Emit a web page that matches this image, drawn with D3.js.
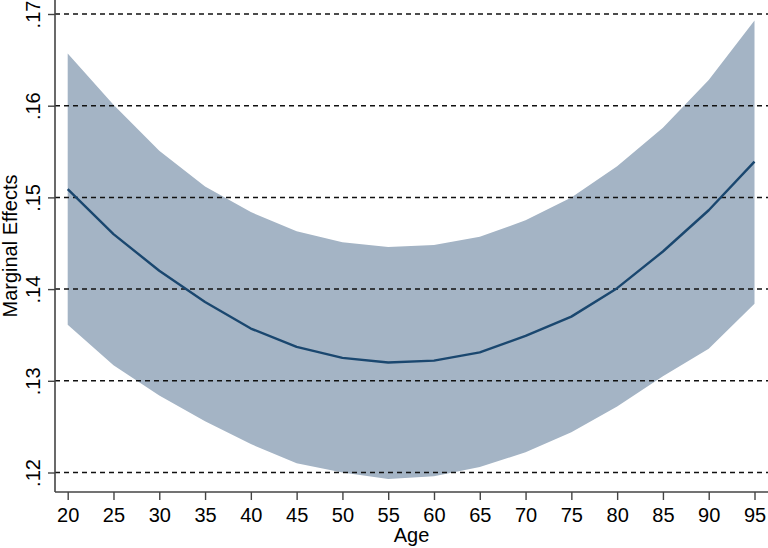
<!DOCTYPE html>
<html>
<head>
<meta charset="utf-8">
<script src="https://cdn.jsdelivr.net/npm/d3@7/dist/d3.min.js"></script>
<style>
  html, body { margin: 0; padding: 0; background: #fff; }
  svg { display: block; font-family: "Liberation Sans", Arial, sans-serif; }
</style>
</head>
<body>
<svg id="chart" width="768" height="548"></svg>
<script>
const ages = [20, 25, 30, 35, 40, 45, 50, 55, 60, 65, 70, 75, 80, 85, 90, 95];
const effect = [.1509, .1460, .1420, .1386, .1357, .1337, .1325, .1320, .1322, .1331, .1349, .1370, .1401, .1441, .1486, .1539];
const upper  = [.1657, .1601, .1551, .1512, .1484, .1463, .1451, .1446, .1448, .1457, .1475, .1500, .1534, .1576, .1628, .1693];
const lower  = [.1361, .1317, .1284, .1256, .1231, .1210, .1200, .1193, .1196, .1206, .1222, .1244, .1272, .1305, .1335, .1384];
const yTicks = [.12, .13, .14, .15, .16, .17];
const yTickLabels = [".12", ".13", ".14", ".15", ".16", ".17"];
const xTicks = ages;
const xTitle = "Age";
const yTitle = "Marginal Effects";

const svg = d3.select("#chart");
const W = 768, H = 548;
const axisX = 55, axisY = 492;
const FS = 20;

const x = d3.scaleLinear().domain([20, 95]).range([67.7, 754.5]);
const y = d3.scaleLinear().domain([0.12, 0.17]).range([472.5, 14]);

const pts = ages.map((a, i) => ({a, m: effect[i], lo: lower[i], hi: upper[i]}));

// band
svg.append("path")
  .datum(pts)
  .attr("fill", "#a4b4c5")
  .attr("d", d3.area().x(d => x(d.a)).y0(d => y(d.lo)).y1(d => y(d.hi)));

// gridlines
svg.append("g").selectAll("line").data(yTicks).join("line")
  .attr("x1", axisX).attr("x2", W)
  .attr("y1", d => y(d)).attr("y2", d => y(d))
  .attr("stroke", "#111").attr("stroke-width", 1.5)
  .attr("stroke-dasharray", "5,4");

// line
svg.append("path")
  .datum(pts)
  .attr("fill", "none")
  .attr("stroke", "#1a476f")
  .attr("stroke-width", 2.4)
  .attr("stroke-linejoin", "round")
  .attr("d", d3.line().x(d => x(d.a)).y(d => y(d.m)));

// y axis
const yAxis = d3.axisLeft(y).tickValues(yTicks).tickSize(7).tickPadding(6)
  .tickFormat((d, i) => yTickLabels[i]);
const gy = svg.append("g").attr("transform", `translate(${axisX},0)`).call(yAxis);
gy.select(".domain").remove();
gy.selectAll(".tick line").attr("stroke", "#444").attr("stroke-width", 1.4);
gy.selectAll(".tick text")
  .attr("font-size", FS).attr("fill", "#000")
  .attr("text-anchor", "middle")
  .attr("x", null).attr("dy", null)
  .attr("transform", "translate(-15,0) rotate(-90)")
  .attr("y", 0);
svg.append("line").attr("x1", axisX).attr("x2", axisX).attr("y1", 0).attr("y2", axisY)
  .attr("stroke", "#444").attr("stroke-width", 1.6);

// x axis
const xAxis = d3.axisBottom(x).tickValues(xTicks).tickSize(8).tickPadding(8).tickFormat(d3.format("d"));
const gx = svg.append("g").attr("transform", `translate(0,${axisY})`).call(xAxis);
gx.select(".domain").remove();
gx.selectAll(".tick line").attr("stroke", "#444").attr("stroke-width", 1.4);
gx.selectAll(".tick text").attr("font-size", FS).attr("fill", "#000");
svg.append("line").attr("x1", axisX).attr("x2", W).attr("y1", axisY).attr("y2", axisY)
  .attr("stroke", "#444").attr("stroke-width", 1.6);

// titles
svg.append("text").attr("x", (axisX + W) / 2).attr("y", 542)
  .attr("text-anchor", "middle").attr("font-size", FS).attr("fill", "#000").text(xTitle);
svg.append("text").attr("transform", `translate(17,${axisY / 2}) rotate(-90)`)
  .attr("text-anchor", "middle").attr("font-size", FS).attr("fill", "#000").text(yTitle);
</script>
</body>
</html>
